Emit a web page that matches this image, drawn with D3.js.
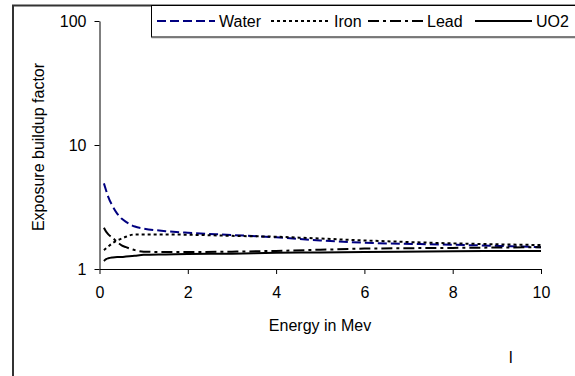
<!DOCTYPE html>
<html>
<head>
<meta charset="utf-8">
<script src="https://cdn.jsdelivr.net/npm/d3@7"></script>
<style>
  body { margin: 0; background: #fff; }
  svg text { font-family: "Liberation Sans", Arial, sans-serif; fill: #000; }
</style>
</head>
<body>
<div id="chart"></div>
<script>
var width = 575,
  height = 376;

// energy in MeV
const energy = [0.1, 0.15, 0.2, 0.3, 0.4, 0.5, 0.6, 0.8, 1, 1.5, 2, 3, 4, 5, 6, 8, 10]
const water = [4.9, 4.3, 3.8, 3.2, 2.8, 2.55, 2.4, 2.2, 2.12, 2.02, 1.96, 1.88, 1.8, 1.7, 1.63, 1.57, 1.5]
const iron = [1.42, 1.47, 1.52, 1.62, 1.7, 1.76, 1.82, 1.9, 1.9, 1.9, 1.89, 1.85, 1.82, 1.76, 1.7, 1.61, 1.56]
const lead = [2.15, 2.0, 1.9, 1.78, 1.65, 1.55, 1.5, 1.42, 1.38, 1.37, 1.37, 1.38, 1.4, 1.43, 1.46, 1.48, 1.5]
const uo2 = [1.16, 1.2, 1.22, 1.24, 1.25, 1.25, 1.26, 1.28, 1.3, 1.31, 1.32, 1.33, 1.35, 1.36, 1.37, 1.39, 1.4]

const seriesNames = ["Water", "Iron", "Lead", "UO2"]
const xTicks = [0, 2, 4, 6, 8, 10]
const yTicks = [1, 10, 100]

const styles = {
  Water: { color: "#000080", dash: "9,4" },
  Iron: { color: "#000", dash: "3,3" },
  Lead: { color: "#000", dash: "11,4,3,4" },
  UO2: { color: "#000", dash: null }
}

const series = [water, iron, lead, uo2].map((vals, i) => ({
  name: seriesNames[i],
  values: vals.map((v, j) => ({ e: energy[j], v: v }))
}))

var svg = d3.select("#chart").append("svg")
  .attr("width", width)
  .attr("height", height)

// outer frame (runs off the picture right and bottom)
svg.append("path")
  .attr("d", "M13,400V5.5H600")
  .attr("fill", "none")
  .attr("stroke", "#333")
  .attr("stroke-width", 2)

var x = d3.scaleLinear().domain([0, 10]).range([99.5, 541])
var y = d3.scaleLog().domain([1, 100]).range([269, 21])

var xAxis = svg.append("g")
  .attr("transform", "translate(0,269)")
  .call(d3.axisBottom(x).tickValues(xTicks).tickSize(5).tickSizeOuter(0).tickPadding(13).tickFormat(d3.format("d")))
xAxis.selectAll("text").style("font-size", "16px")

var yAxis = svg.append("g")
  .attr("transform", "translate(99.5,0)")
  .call(d3.axisLeft(y).tickValues(yTicks).tickSize(5).tickSizeOuter(0).tickPadding(8).tickFormat(d3.format("d")))
yAxis.selectAll("text").style("font-size", "16px")

svg.selectAll(".domain, .tick line").attr("stroke", "#000")

var line = d3.line()
  .x(d => x(d.e))
  .y(d => y(d.v))
  .curve(d3.curveMonotoneX)

svg.append("g")
  .selectAll("path")
  .data(series)
  .enter().append("path")
    .attr("d", d => line(d.values))
    .attr("fill", "none")
    .attr("stroke", d => styles[d.name].color)
    .attr("stroke-width", 2)
    .attr("stroke-dasharray", d => styles[d.name].dash)

// axis titles
svg.append("text")
  .attr("x", 320)
  .attr("y", 331)
  .attr("text-anchor", "middle")
  .style("font-size", "16px")
  .text("Energy in Mev")

svg.append("text")
  .attr("transform", "translate(44,147) rotate(-90)")
  .attr("text-anchor", "middle")
  .style("font-size", "16px")
  .text("Exposure buildup factor")

// legend
var legend = svg.append("g")
svg.append("rect")
  .attr("x", 151.5).attr("y", 5.5)
  .attr("width", 460).attr("height", 31.5)
  .attr("fill", "#fff")
  .attr("stroke", "#000")
svg.append("line")
  .attr("x1", 151.5).attr("x2", 600)
  .attr("y1", 37.5).attr("y2", 37.5)
  .attr("stroke", "#777")
  .attr("stroke-width", 1.5)

const legendX = [157, 271, 368, 475]
const legendW = [58, 59, 55, 57]

var items = svg.append("g")
  .selectAll("g")
  .data(seriesNames)
  .enter().append("g")

items.append("line")
  .attr("x1", (d, i) => legendX[i])
  .attr("x2", (d, i) => legendX[i] + legendW[i])
  .attr("y1", 21).attr("y2", 21)
  .attr("stroke", d => styles[d].color)
  .attr("stroke-width", 2)
  .attr("stroke-dasharray", d => styles[d].dash)

items.append("text")
  .attr("x", (d, i) => legendX[i] + legendW[i] + 4)
  .attr("y", 27)
  .style("font-size", "16px")
  .text(d => d)

// stray mark below the plot
svg.append("text")
  .attr("x", 509)
  .attr("y", 363)
  .style("font-size", "16px")
  .text("l")
</script>
</body>
</html>
